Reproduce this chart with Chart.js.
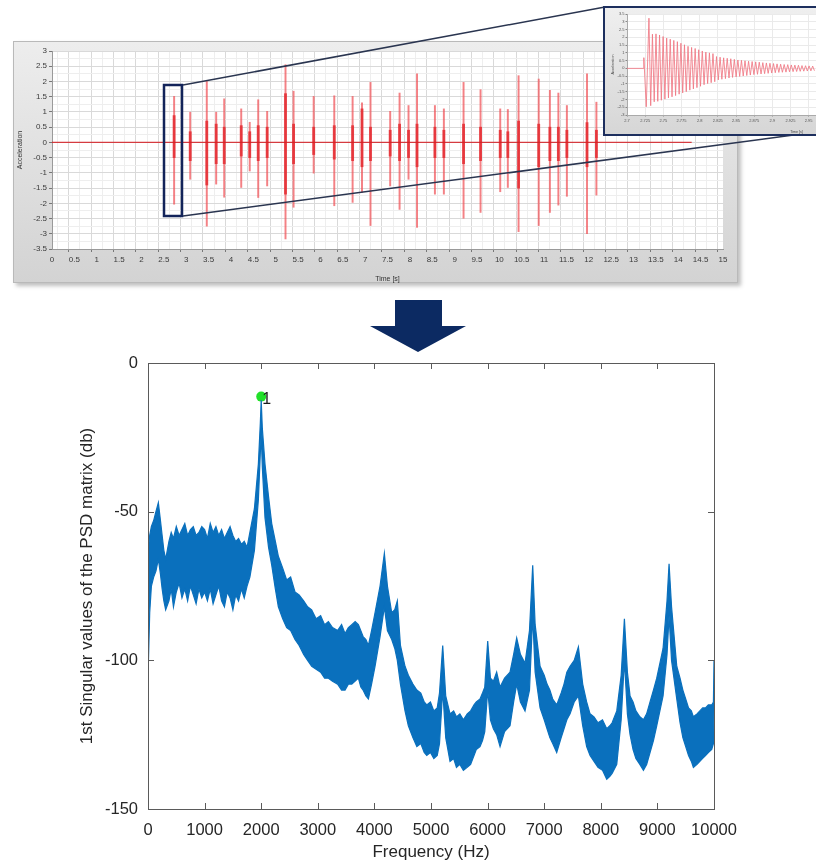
<!DOCTYPE html>
<html><head><meta charset="utf-8">
<script src="https://cdn.jsdelivr.net/npm/chart.js@4.4.1/dist/chart.umd.min.js"></script>
<style>
html,body{margin:0;padding:0;background:#fff;width:816px;height:863px;overflow:hidden;position:relative;font-family:"Liberation Sans",Arial,sans-serif}
.abs{position:absolute}
#frame{left:13px;top:41px;width:723px;height:240px;background:linear-gradient(#ededed,#d3d3d3);border:1px solid #b9b9b9;box-shadow:3px 3px 4px rgba(0,0,0,.25)}
#c1{left:13px;top:41px}
#inset{left:603px;top:6px;width:400px;height:126px;border:2px solid #1d2f5e;background:linear-gradient(#efefef,#d6d6d6);z-index:3;overflow:hidden}
#c3{left:0;top:0}
#c2{left:60px;top:340px}
#ov{left:0;top:0;z-index:2;pointer-events:none}
</style></head>
<body>
<div id="frame" class="abs"></div>
<canvas id="c1" class="abs" width="725" height="242" style="width:725px;height:242px"></canvas>
<svg id="ov" class="abs" width="816" height="863">
  <line x1="183" y1="85" x2="605" y2="7" stroke="#2a3550" stroke-width="1.5"/>
  <line x1="183" y1="216" x2="816" y2="132" stroke="#2a3550" stroke-width="1.5"/>
  <rect x="164" y="85" width="18" height="131" fill="none" stroke="#13245a" stroke-width="2.5"/>
  <polygon points="395,300 442,300 442,326 466,326 418,352 370,326 395,326" fill="#0c2a62"/>
</svg>
<div id="inset" class="abs"><canvas id="c3" class="abs" width="372" height="126" style="width:372px;height:126px"></canvas></div>
<canvas id="c2" class="abs" width="700" height="523" style="width:700px;height:523px"></canvas>
<script>
// ---------- Top chart data: acceleration bursts (time [s], extremes, core extremes) ----------
const burstT    = [2.73,3.09,3.46,3.67,3.85,4.23,4.42,4.61,4.81,5.22,5.40,5.85,6.31,6.72,6.93,7.12,7.56,7.77,7.97,8.16,8.56,8.76,9.20,9.58,10.02,10.19,10.43,10.88,11.13,11.32,11.51,11.96,12.17];
const burstMax  = [1.51,0.99,2.00,0.99,1.43,1.10,0.66,1.40,1.02,2.55,1.68,1.51,1.53,1.51,1.30,1.97,1.02,1.62,1.21,2.25,1.21,1.10,1.97,1.73,1.10,1.08,2.19,2.08,1.71,1.62,1.21,2.25,1.32];
const burstMin  = [-2.03,-1.21,-2.75,-1.37,-1.80,-1.48,-0.94,-1.81,-1.43,-3.17,-2.13,-1.01,-2.08,-1.97,-1.64,-2.73,-1.43,-2.20,-1.21,-2.79,-1.70,-1.70,-2.49,-2.30,-1.62,-1.48,-2.93,-2.73,-2.30,-2.06,-1.77,-3.00,-1.73];
const coreMax   = [0.88,0.35,0.70,0.60,0.50,0.55,0.35,0.55,0.50,1.60,0.60,0.50,0.55,0.55,1.10,0.50,0.40,0.60,0.40,0.60,0.50,0.40,0.60,0.50,0.40,0.35,0.70,0.60,0.50,0.50,0.40,0.65,0.40];
const coreMin   = [-0.50,-0.60,-1.40,-0.70,-0.70,-0.45,-0.50,-0.60,-0.50,-1.70,-0.70,-0.40,-0.55,-0.60,-0.80,-0.60,-0.45,-0.60,-0.50,-0.80,-0.50,-0.50,-0.70,-0.60,-0.50,-0.50,-1.50,-0.80,-0.60,-0.60,-0.50,-0.80,-0.50];
const baseT     = [0, 14.3];
const baseV     = [0, 0];

// ---------- Inset data: zoom on the first burst ----------
const insetLeadT = [2.700, 2.7228, 2.7232, 2.7265, 2.7302, 2.7326];
const insetLeadV = [0, 0, 0.69, -2.47, 3.23, -2.40];
const insetStart = 2.7350, insetPeriod = 0.0049;
const insetPos = [2.20,2.22,2.15,2.05,1.95,1.88,1.80,1.72,1.62,1.52,1.42,1.35,1.28,1.20,1.12,1.05,1.00,0.95,0.76,0.72,0.68,0.65,0.62,0.58,0.54,0.52,0.49,0.46,0.44,0.42,0.40,0.37,0.35,0.33,0.31,0.29,0.27,0.25,0.24,0.22,0.21,0.20,0.18,0.17,0.16,0.15];
const insetNeg = [-2.15,-2.12,-2.05,-1.98,-1.90,-1.83,-1.75,-1.66,-1.58,-1.50,-1.40,-1.32,-1.24,-1.15,-1.05,-0.98,-0.92,-0.86,-0.74,-0.70,-0.66,-0.62,-0.58,-0.55,-0.52,-0.49,-0.46,-0.43,-0.40,-0.38,-0.36,-0.34,-0.32,-0.30,-0.28,-0.26,-0.25,-0.24,-0.22,-0.21,-0.20,-0.19,-0.18,-0.17,-0.16,-0.15];

// ---------- Bottom chart data: 1st singular value of PSD matrix (dB), upper/lower edge of the noisy band ----------
const psdFreq = [
  0,30,60,100,140,183,220,250,280,312,
  370,410,450,500,550,600,650,700,750,800,850,900,950,1000,1050,1100,1150,1200,1250,1300,1350,1400,1450,1500,1550,1600,1650,1700,1750,1800,
  1880,1950,1985,2000,2020,2067,2130,2186,2250,2303,
  2380,2450,2520,2597,2670,2750,2820,2892,2970,3050,3120,3187,3260,3350,3420,3481,3540,3600,3660,3717,3760,3800,3850,3894,3950,4011,
  4100,4176,4230,4306,4360,4405,4460,4541,
  4600,4680,4750,4820,4880,4925,4990,5050,5110,5150,
  5207,5260,
  5336,5400,5450,5510,5572,5640,5700,5760,5800,5866,5910,5950,
  6002,6050,6102,6160,6220,6300,6396,6460,6514,6580,6661,6740,6797,6840,6927,
  7000,7050,7100,7150,7221,7300,7350,7400,
  7457,7530,7604,7680,
  7750,7810,7880,7950,8030,8105,8160,8200,8282,
  8360,8417,8470,8517,
  8570,8620,8690,8753,8810,8870,8930,8988,
  9100,9170,9206,9250,9342,
  9400,9450,9500,9550,9600,9636,9700,9750,9800,9850,9900,9960,9990,10000];
const psdUpper = [
  -64,-58,-55,-53,-50,-47,-53,-58,-63,-66,
  -60,-57,-59,-55,-58,-56,-54,-58,-56,-55,-58,-57,-55,-56,-59,-54,-57,-55,-58,-56,-59,-57,-55,-58,-60,-59,-61,-60,-62,-57,
  -49,-34,-20,-12.5,-22,-34,-45,-54,-60,-65,
  -69,-73,-72,-77,-78,-80,-82,-83,-86,-85,-88,-87,-89,-90,-88,-91,-89,-88,-87,-88,-90,-92,-93,-95,-90,-84,
  -75,-64,-75,-84,-83,-80,-95,-102,
  -105,-108,-110,-111,-114,-115,-114,-117,-116,-111,
  -95,-112,
  -118,-117,-119,-118,-120,-118,-117,-115,-114,-113,-111,-109,
  -93.5,-106,-107,-104,-109,-106,-104,-98,-92.5,-98,-101,-90,-68,-88,-102,
  -105,-108,-110,-113,-115,-111,-108,-104,
  -102,-100,-95.5,-108,
  -114,-118,-119,-121,-120,-123,-122,-121,-117,
  -105,-86,-104,-112,
  -114,-117,-119,-120,-118,-114,-110,-106,
  -96,-80,-67.5,-82,-102,
  -106,-110,-113,-116,-117,-119,-118,-117,-116,-116,-115,-115,-114,-100];
const psdLower = [
  -106,-84,-75,-72,-70,-66,-71,-76,-80,-83,
  -80,-76,-82,-77,-74,-79,-76,-80,-75,-78,-81,-76,-79,-77,-80,-76,-81,-78,-75,-80,-82,-77,-79,-83,-78,-80,-76,-79,-75,-72,
  -63,-46,-30,-24,-35,-52,-62,-68,-76,-82,
  -86,-89,-90,-93,-95,-98,-100,-102,-103,-104,-106,-106,-107,-108,-110,-110,-108,-108,-107,-106,-109,-110,-112,-113,-108,-102,
  -92,-82,-90,-93,-96,-100,-108,-117,
  -122,-126,-129,-128,-131,-132,-131,-133,-132,-128,
  -110,-126,
  -134,-133,-136,-135,-137,-136,-135,-132,-130,-129,-127,-124,
  -110,-120,-123,-125,-129,-124,-122,-114,-108,-114,-117,-110,-85,-104,-116,
  -120,-123,-126,-128,-131,-126,-123,-120,
  -118,-114,-112,-122,
  -129,-132,-134,-136,-137,-140,-139,-138,-135,
  -120,-100,-118,-125,
  -130,-133,-135,-137,-135,-131,-127,-122,
  -112,-98,-85,-100,-113,
  -121,-126,-129,-132,-134,-136,-135,-134,-133,-132,-131,-130,-128,-117];
const peakFreq = [2000];
const peakDb   = [-11.3];
const peakLabel = ['1'];

Chart.defaults.font.family = "'Liberation Sans', Arial, sans-serif";
Chart.defaults.animation = false;

const plotBg = {
  id: 'plotBg',
  beforeDraw(chart, args, opts) {
    const a = chart.chartArea, c = chart.ctx;
    c.save(); c.fillStyle = opts.color || '#fff';
    c.fillRect(a.left, a.top, a.right - a.left, a.bottom - a.top); c.restore();
  }
};
const half = v => Math.abs(v * 2 - Math.round(v * 2)) < 1e-6;
const fmt = v => String(Math.round(v * 1000) / 1000);

// ---------- Top chart ----------
new Chart(document.getElementById('c1'), {
  type: 'line',
  data: {
    datasets: [
      { type: 'bar', data: burstT.map((t, i) => ({ x: t, y: [burstMin[i], burstMax[i]] })),
        backgroundColor: 'rgba(240,80,86,0.72)', barThickness: 1.3, grouped: false, order: 2 },
      { type: 'bar', data: burstT.map((t, i) => ({ x: t, y: [coreMin[i], coreMax[i]] })),
        backgroundColor: 'rgba(228,42,48,0.85)', barThickness: 2.2, grouped: false, order: 1 },
      { type: 'line', data: baseT.map((t, i) => ({ x: t, y: baseV[i] })),
        borderColor: 'rgba(212,30,36,0.85)', borderWidth: 1.3, pointRadius: 0, order: 0 }
    ]
  },
  options: {
    responsive: false, events: [],
    layout: { padding: { top: 10, right: 15, left: 0, bottom: 0 } },
    plugins: { legend: { display: false }, tooltip: { enabled: false }, plotBg: { color: '#fff' } },
    scales: {
      x: { type: 'linear', min: 0, max: 15, offset: false,
        afterFit: s => { s.height = 34; },
        ticks: { stepSize: 0.25, autoSkip: false, maxRotation: 0, minRotation: 0, padding: 3,
          color: '#3a3a3a', font: { size: 8 }, callback: v => half(v) ? fmt(v) : '' },
        grid: { color: c => (c.tick && half(c.tick.value)) ? '#d9d9d9' : '#eeeeee',
          tickColor: c => (c.tick && half(c.tick.value)) ? '#777' : 'rgba(0,0,0,0)', tickLength: 3 },
        border: { color: '#9a9a9a' },
        title: { display: true, text: 'Time [s]', color: '#333', font: { size: 7 }, padding: { top: 8, bottom: 0 } }
      },
      y: { type: 'linear', min: -3.5, max: 3,
        afterFit: s => { s.width = 39; },
        ticks: { stepSize: 0.25, autoSkip: false, padding: 2, color: '#3a3a3a', font: { size: 8 },
          callback: v => half(v) ? fmt(v) : '' },
        grid: { color: c => (c.tick && half(c.tick.value)) ? '#d9d9d9' : '#eeeeee',
          tickColor: c => (c.tick && half(c.tick.value)) ? '#777' : 'rgba(0,0,0,0)', tickLength: 3 },
        border: { color: '#9a9a9a' },
        title: { display: true, text: 'Acceleration', color: '#333', font: { size: 7 }, padding: { top: 3, bottom: 0 } }
      }
    }
  },
  plugins: [plotBg]
});

// ---------- Inset chart ----------
const insetData = insetLeadT.map((t, i) => ({ x: t, y: insetLeadV[i] }));
insetPos.forEach((p, i) => {
  const t = insetStart + i * insetPeriod;
  insetData.push({ x: t, y: p });
  insetData.push({ x: t + insetPeriod / 2, y: insetNeg[i] });
});
const q = v => Math.abs(v * 40 - Math.round(v * 40)) < 1e-6;
new Chart(document.getElementById('c3'), {
  type: 'line',
  data: { datasets: [{ data: insetData, borderColor: 'rgba(240,120,132,0.85)', borderWidth: 1, pointRadius: 0, tension: 0 }] },
  options: {
    responsive: false, events: [],
    layout: { padding: { top: 6, right: 11, left: 0, bottom: 0 } },
    plugins: { legend: { display: false }, tooltip: { enabled: false }, plotBg: { color: '#fff' } },
    scales: {
      x: { type: 'linear', min: 2.7, max: 3.1665, offset: false,
        afterFit: s => { s.height = 19; },
        ticks: { stepSize: 0.025, autoSkip: false, maxRotation: 0, minRotation: 0, padding: 2,
          color: '#555', font: { size: 4 }, callback: v => q(v) ? fmt(v) : '' },
        grid: { color: '#eaeaea', tickLength: 1.5, tickColor: '#888' },
        border: { color: '#aaa' },
        title: { display: true, text: 'Time [s]', color: '#444', font: { size: 3.6 }, padding: { top: 3, bottom: 0 } }
      },
      y: { type: 'linear', min: -3, max: 3.5,
        afterFit: s => { s.width = 22; },
        ticks: { stepSize: 0.5, autoSkip: false, padding: 1, color: '#555', font: { size: 4 }, callback: v => fmt(v) },
        grid: { color: '#eaeaea', tickLength: 1.5, tickColor: '#888' },
        border: { color: '#aaa' },
        title: { display: true, text: 'Acceleration', color: '#444', font: { size: 3.6 }, padding: { top: 6, bottom: 0 } }
      }
    }
  },
  plugins: [plotBg]
});

// ---------- Bottom chart ----------
const boxTicks = {
  id: 'boxTicks',
  afterDraw(chart) {
    const a = chart.chartArea, c = chart.ctx, xs = chart.scales.x, ys = chart.scales.y;
    c.save();
    c.strokeStyle = '#5a5a5a'; c.lineWidth = 1;
    c.strokeRect(Math.round(a.left) + 0.5, Math.round(a.top) + 0.5, Math.round(a.right - a.left), Math.round(a.bottom - a.top));
    c.beginPath();
    xs.ticks.forEach(t => {
      const x = Math.round(xs.getPixelForValue(t.value)) + 0.5;
      c.moveTo(x, a.bottom); c.lineTo(x, a.bottom - 6);
      c.moveTo(x, a.top); c.lineTo(x, a.top + 6);
    });
    ys.ticks.forEach(t => {
      const y = Math.round(ys.getPixelForValue(t.value)) + 0.5;
      c.moveTo(a.left, y); c.lineTo(a.left + 6, y);
      c.moveTo(a.right, y); c.lineTo(a.right - 6, y);
    });
    c.stroke();
    const meta = chart.getDatasetMeta(2);
    meta.data.forEach((pt, i) => {
      c.fillStyle = '#1a1a1a'; c.font = "16px 'Liberation Sans', Arial, sans-serif";
      c.textBaseline = 'middle'; c.textAlign = 'left';
      c.fillText(peakLabel[i], pt.x + 1, pt.y + 3);
    });
    c.restore();
  }
};
const blue = '#0a70bd';
new Chart(document.getElementById('c2'), {
  type: 'line',
  data: {
    datasets: [
      { data: psdFreq.map((f, i) => ({ x: f, y: psdUpper[i] })), borderColor: blue, borderWidth: 1.2, pointRadius: 0, fill: false, tension: 0 },
      { data: psdFreq.map((f, i) => ({ x: f, y: psdLower[i] })), borderColor: blue, borderWidth: 1.2, pointRadius: 0, fill: '-1', backgroundColor: blue, tension: 0 },
      { data: peakFreq.map((f, i) => ({ x: f, y: peakDb[i] })), showLine: false, pointRadius: 5, pointBackgroundColor: '#22e02a', pointBorderColor: '#22e02a', pointBorderWidth: 0 }
    ]
  },
  options: {
    responsive: false, events: [],
    layout: { padding: { top: 23, right: 46, left: 0, bottom: 0 } },
    plugins: { legend: { display: false }, tooltip: { enabled: false } },
    scales: {
      x: { type: 'linear', min: 0, max: 10000, offset: false,
        afterFit: s => { s.height = 54; },
        ticks: { stepSize: 1000, autoSkip: false, maxRotation: 0, minRotation: 0, padding: 12,
          color: '#262626', font: { size: 16.5 }, callback: v => String(v) },
        grid: { display: false, drawTicks: false },
        border: { display: false },
        title: { display: true, text: 'Frequency (Hz)', color: '#262626', font: { size: 17 }, padding: { top: 0, bottom: 0 } }
      },
      y: { type: 'linear', min: -150, max: 0,
        afterFit: s => { s.width = 88; },
        ticks: { stepSize: 50, padding: 10, color: '#262626', font: { size: 16.5 }, callback: v => String(v) },
        grid: { display: false, drawTicks: false },
        border: { display: false },
        title: { display: true, text: '1st Singular values of the PSD matrix (db)', color: '#262626', font: { size: 17 }, padding: { top: 17, bottom: 0 } }
      }
    }
  },
  plugins: [boxTicks]
});
</script>
</body></html>
